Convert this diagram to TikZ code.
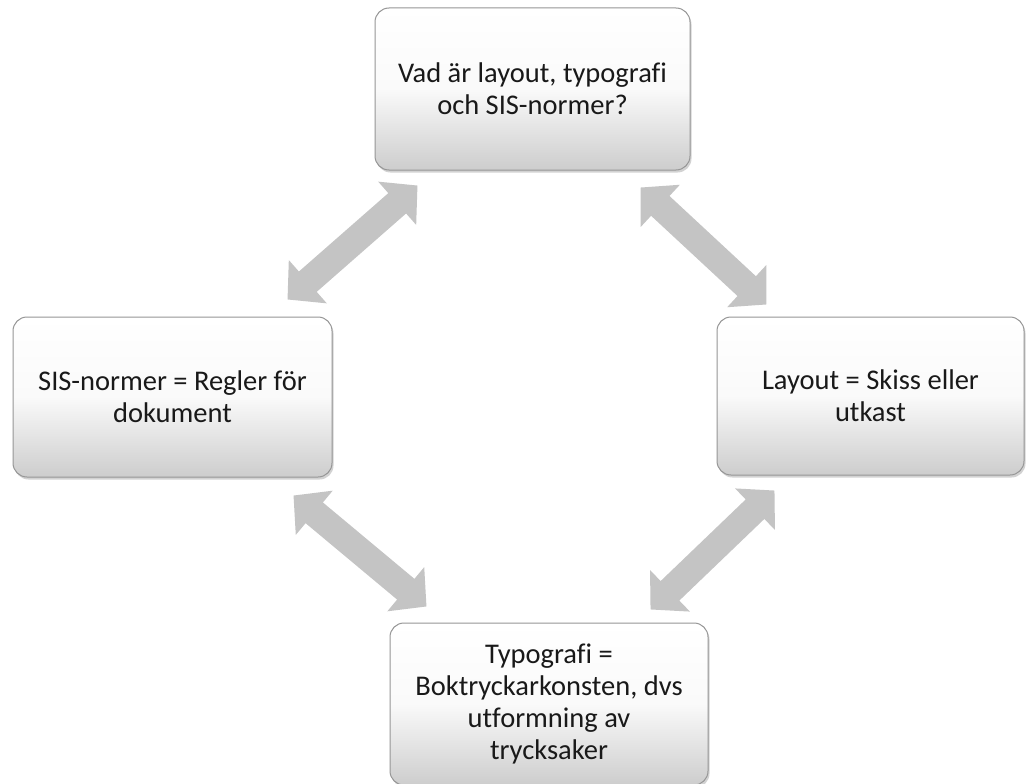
\documentclass[tikz,border=0pt]{standalone}
\usepackage{fontspec}
\setmainfont{Carlito}[Ligatures={NoCommon}]
\usetikzlibrary{arrows.meta,shadows,calc}
\definecolor{arrowgray}{RGB}{196,196,196}
\definecolor{boxline}{RGB}{150,150,150}
\definecolor{boxbottom}{RGB}{205,205,205}
\definecolor{txt}{RGB}{25,25,25}
\begin{document}
\begin{tikzpicture}[x=1pt,y=-1pt,
  box/.style={rectangle, rounded corners=14pt, draw=boxline, line width=1pt,
    top color=white, bottom color=boxbottom, middle color=white!96!gray,
    drop shadow={shadow xshift=1.5pt, shadow yshift=-2.5pt, opacity=0.35, fill=gray},
    align=center, font=\fontsize{28.5}{32}\selectfont, text=txt, inner sep=0pt},
  dblarrow/.style={line width=27pt, draw=arrowgray,
    {Triangle[length=27pt,width=56pt]}-{Triangle[length=27pt,width=56pt]}}]
\useasboundingbox (0,0) rectangle (1026,784);
\clip (0,0) rectangle (1026,784);
\fill[white] (0,0) rectangle (1026,784);

\node[box, minimum width=315pt, minimum height=162pt] (top) at (532.5,89)
  {Vad är layout, typografi\\och SIS-normer?};
\node[box, minimum width=319pt, minimum height=160pt] (left) at (172.5,397)
  {SIS-normer = Regler för\\dokument};
\node[box, minimum width=307pt, minimum height=158pt] (right) at (870.5,396)
  {Layout = Skiss eller\\utkast};
\node[box, minimum width=318pt, minimum height=162pt] (bottom) at (549,704)
  {Typografi =\\Boktryckarkonsten, dvs\\utformning av\\trycksaker};

\draw[dblarrow] ($(top.south west)+(43,15)$) -- ($(left.north east)+(-45,-17)$);
\draw[dblarrow] ($(top.south east)+(-50,17)$) -- ($(right.north west)+(50,-12)$);
\draw[dblarrow] ($(left.south east)+(-39,18)$) -- ($(bottom.north west)+(37,-16)$);
\draw[dblarrow] ($(right.south west)+(58,15)$) -- ($(bottom.north east)+(-58,-13)$);
\end{tikzpicture}
\end{document}
